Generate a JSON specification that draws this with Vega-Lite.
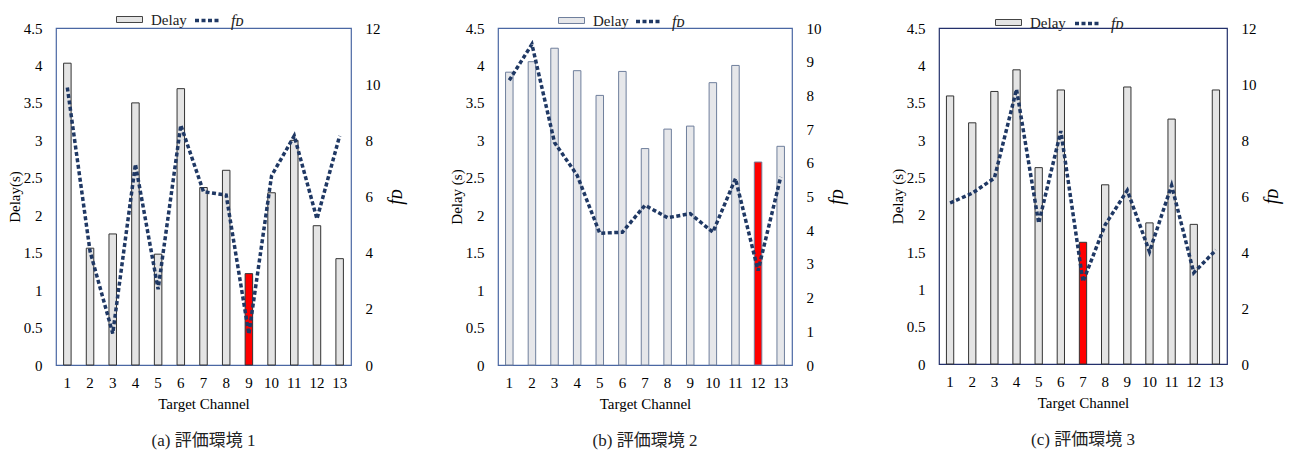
{
  "$schema": "https://vega.github.io/schema/vega-lite/v6.json",
  "background": "#ffffff",
  "padding": {"left": 6, "top": 5, "right": 5, "bottom": 5},
  "datasets": {
    "env1": [
      {"ch": 1, "delay": 4.03, "fd": 9.88, "best": false},
      {"ch": 2, "delay": 1.56, "fd": 4.05, "best": false},
      {"ch": 3, "delay": 1.75, "fd": 1.12, "best": false},
      {"ch": 4, "delay": 3.50, "fd": 7.15, "best": false},
      {"ch": 5, "delay": 1.48, "fd": 2.7, "best": false},
      {"ch": 6, "delay": 3.69, "fd": 8.54, "best": false},
      {"ch": 7, "delay": 2.37, "fd": 6.17, "best": false},
      {"ch": 8, "delay": 2.60, "fd": 6.05, "best": false},
      {"ch": 9, "delay": 1.22, "fd": 1.1, "best": true},
      {"ch": 10, "delay": 2.30, "fd": 6.74, "best": false},
      {"ch": 11, "delay": 3.00, "fd": 8.16, "best": false},
      {"ch": 12, "delay": 1.86, "fd": 5.2, "best": false},
      {"ch": 13, "delay": 1.42, "fd": 8.16, "best": false}
    ],
    "env2": [
      {"ch": 1, "delay": 3.91, "fd": 8.45, "best": false},
      {"ch": 2, "delay": 4.05, "fd": 9.52, "best": false},
      {"ch": 3, "delay": 4.23, "fd": 6.6, "best": false},
      {"ch": 4, "delay": 3.93, "fd": 5.63, "best": false},
      {"ch": 5, "delay": 3.60, "fd": 3.91, "best": false},
      {"ch": 6, "delay": 3.92, "fd": 3.94, "best": false},
      {"ch": 7, "delay": 2.89, "fd": 4.74, "best": false},
      {"ch": 8, "delay": 3.15, "fd": 4.37, "best": false},
      {"ch": 9, "delay": 3.19, "fd": 4.49, "best": false},
      {"ch": 10, "delay": 3.77, "fd": 3.94, "best": false},
      {"ch": 11, "delay": 4.00, "fd": 5.53, "best": false},
      {"ch": 12, "delay": 2.71, "fd": 2.8, "best": true},
      {"ch": 13, "delay": 2.92, "fd": 5.58, "best": false}
    ],
    "env3": [
      {"ch": 1, "delay": 3.59, "fd": 5.75, "best": false},
      {"ch": 2, "delay": 3.23, "fd": 6.1, "best": false},
      {"ch": 3, "delay": 3.65, "fd": 6.64, "best": false},
      {"ch": 4, "delay": 3.94, "fd": 9.81, "best": false},
      {"ch": 5, "delay": 2.63, "fd": 5.03, "best": false},
      {"ch": 6, "delay": 3.67, "fd": 8.32, "best": false},
      {"ch": 7, "delay": 1.63, "fd": 2.94, "best": true},
      {"ch": 8, "delay": 2.40, "fd": 4.97, "best": false},
      {"ch": 9, "delay": 3.71, "fd": 6.2, "best": false},
      {"ch": 10, "delay": 1.89, "fd": 4.01, "best": false},
      {"ch": 11, "delay": 3.28, "fd": 6.38, "best": false},
      {"ch": 12, "delay": 1.87, "fd": 3.26, "best": false},
      {"ch": 13, "delay": 3.67, "fd": 4.07, "best": false}
    ]
  },
  "config": {
    "font": "Liberation Serif, Times New Roman, serif",
    "view": {"stroke": "#4a67a3", "strokeWidth": 1.2},
    "axis": {
      "ticks": false,
      "domain": false,
      "grid": false,
      "labelFont": "Liberation Serif, Times New Roman, serif",
      "labelFontSize": 15,
      "labelColor": "#000000",
      "titleFont": "Liberation Serif, Times New Roman, serif",
      "titleFontSize": 15,
      "titleFontWeight": "normal",
      "titleColor": "#000000"
    },
    "legend": {
      "labelFont": "Liberation Serif, Times New Roman, serif",
      "labelFontSize": 15,
      "labelColor": "#222222",
      "padding": 0,
      "offset": 0
    },
    "title": {
      "font": "Liberation Serif, Noto Sans CJK JP, serif",
      "fontSize": 17,
      "fontWeight": "normal",
      "color": "#222222"
    }
  },
  "spacing": 147,
  "bounds": "flush",
  "resolve": {
    "scale": {"x": "independent", "y": "independent", "fill": "independent", "strokeDash": "independent"},
    "legend": {"fill": "independent", "strokeDash": "independent"}
  },
  "hconcat": [
    {
      "width": 295,
      "height": 337,
      "data": {"name": "env1"},
      "title": {"text": "(a) 評価環境 1", "orient": "bottom", "frame": "group", "anchor": "middle", "offset": 22},
      "layer": [
        {
          "mark": {"type": "bar", "width": 7.5, "stroke": "#333333", "strokeWidth": 1},
          "encoding": {
            "x": {"field": "ch", "type": "ordinal", "scale": {"paddingInner": 0, "paddingOuter": 0},
                  "axis": {"labelAngle": 0, "labelPadding": 10, "titlePadding": 6, "title": "Target Channel"}},
            "y": {"field": "delay", "type": "quantitative", "scale": {"domain": [0, 4.5], "nice": false},
                  "axis": {"values": [0, 0.5, 1, 1.5, 2, 2.5, 3, 3.5, 4, 4.5], "format": ".1~f", "labelPadding": 14, "titlePadding": 1, "title": "Delay(s)"}},
            "fill": {
              "condition": {"test": "datum.best", "value": "#ff0000"},
              "datum": "Delay",
              "scale": {"domain": ["Delay"], "range": ["#e4e4e4"]},
              "legend": {"title": null, "orient": "none", "legendX": 60, "legendY": -22,
                         "symbolType": "M-1,-0.23H1V0.23H-1Z", "symbolSize": 676,
                         "symbolStrokeColor": "#444444", "symbolStrokeWidth": 1, "labelOffset": 8}
            }
          }
        },
        {
          "mark": {"type": "line", "stroke": "#1f3864", "strokeWidth": 3.5, "strokeCap": "butt"},
          "encoding": {
            "x": {"field": "ch", "type": "ordinal"},
            "y": {"field": "fd", "type": "quantitative", "scale": {"domain": [0, 12], "nice": false},
                  "axis": {"orient": "right", "values": [0, 2, 4, 6, 8, 10, 12], "labelPadding": 14, "titlePadding": 5,
                           "title": "fᴅ", "titleAngle": -90, "titleBaseline": "top", "titleFontSize": 20, "titleFontStyle": "italic"}},
            "strokeDash": {
              "datum": "fᴅ",
              "scale": {"domain": ["fᴅ"], "range": [[4, 2.5]]},
              "legend": {"title": null, "orient": "none", "legendX": 137, "legendY": -22,
                         "symbolType": "stroke", "symbolSize": 625, "symbolStrokeColor": "#1f3864",
                         "symbolStrokeWidth": 3.5, "labelOffset": 9, "labelFontStyle": "italic", "labelFontSize": 16}
            }
          }
        }
      ],
      "resolve": {"scale": {"y": "independent"}}
    },
    {
      "width": 294,
      "height": 337,
      "data": {"name": "env2"},
      "title": {"text": "(b) 評価環境 2", "orient": "bottom", "frame": "group", "anchor": "middle", "offset": 22},
      "layer": [
        {
          "mark": {"type": "bar", "width": 7.5, "stroke": "#6f7f9c", "strokeWidth": 1},
          "encoding": {
            "x": {"field": "ch", "type": "ordinal", "scale": {"paddingInner": 0, "paddingOuter": 0},
                  "axis": {"labelAngle": 0, "labelPadding": 10, "titlePadding": 6, "title": "Target Channel"}},
            "y": {"field": "delay", "type": "quantitative", "scale": {"domain": [0, 4.5], "nice": false},
                  "axis": {"values": [0, 0.5, 1, 1.5, 2, 2.5, 3, 3.5, 4, 4.5], "format": ".1~f", "labelPadding": 14, "titlePadding": 1, "title": "Delay (s)"}},
            "fill": {
              "condition": {"test": "datum.best", "value": "#ff0000"},
              "datum": "Delay",
              "scale": {"domain": ["Delay"], "range": ["#e6e7ea"]},
              "legend": {"title": null, "orient": "none", "legendX": 60, "legendY": -21,
                         "symbolType": "M-1,-0.23H1V0.23H-1Z", "symbolSize": 676,
                         "symbolStrokeColor": "#6f7f9c", "symbolStrokeWidth": 1, "labelOffset": 8}
            }
          }
        },
        {
          "mark": {"type": "line", "stroke": "#1f3864", "strokeWidth": 3.5, "strokeCap": "butt"},
          "encoding": {
            "x": {"field": "ch", "type": "ordinal"},
            "y": {"field": "fd", "type": "quantitative", "scale": {"domain": [0, 10], "nice": false},
                  "axis": {"orient": "right", "values": [0, 1, 2, 3, 4, 5, 6, 7, 8, 9, 10], "labelPadding": 14, "titlePadding": 5,
                           "title": "fᴅ", "titleAngle": -90, "titleBaseline": "top", "titleFontSize": 20, "titleFontStyle": "italic"}},
            "strokeDash": {
              "datum": "fᴅ",
              "scale": {"domain": ["fᴅ"], "range": [[4, 2.5]]},
              "legend": {"title": null, "orient": "none", "legendX": 136, "legendY": -21,
                         "symbolType": "stroke", "symbolSize": 625, "symbolStrokeColor": "#1f3864",
                         "symbolStrokeWidth": 3.5, "labelOffset": 9, "labelFontStyle": "italic", "labelFontSize": 16}
            }
          }
        }
      ],
      "resolve": {"scale": {"y": "independent"}}
    },
    {
      "width": 288,
      "height": 336,
      "data": {"name": "env3"},
      "view": {"stroke": "#23306b", "strokeWidth": 1.2},
      "title": {"text": "(c) 評価環境 3", "orient": "bottom", "frame": "group", "anchor": "middle", "offset": 22},
      "layer": [
        {
          "mark": {"type": "bar", "width": 7.3, "stroke": "#333333", "strokeWidth": 1},
          "encoding": {
            "x": {"field": "ch", "type": "ordinal", "scale": {"paddingInner": 0, "paddingOuter": 0},
                  "axis": {"labelAngle": 0, "labelPadding": 10, "titlePadding": 6, "title": "Target Channel"}},
            "y": {"field": "delay", "type": "quantitative", "scale": {"domain": [0, 4.5], "nice": false},
                  "axis": {"values": [0, 0.5, 1, 1.5, 2, 2.5, 3, 3.5, 4, 4.5], "format": ".1~f", "labelPadding": 14, "titlePadding": 1, "title": "Delay (s)"}},
            "fill": {
              "condition": {"test": "datum.best", "value": "#ff0000"},
              "datum": "Delay",
              "scale": {"domain": ["Delay"], "range": ["#e4e4e4"]},
              "legend": {"title": null, "orient": "none", "legendX": 56, "legendY": -19,
                         "symbolType": "M-1,-0.23H1V0.23H-1Z", "symbolSize": 676,
                         "symbolStrokeColor": "#444444", "symbolStrokeWidth": 1, "labelOffset": 8}
            }
          }
        },
        {
          "mark": {"type": "line", "stroke": "#1f3864", "strokeWidth": 3.5, "strokeCap": "butt"},
          "encoding": {
            "x": {"field": "ch", "type": "ordinal"},
            "y": {"field": "fd", "type": "quantitative", "scale": {"domain": [0, 12], "nice": false},
                  "axis": {"orient": "right", "values": [0, 2, 4, 6, 8, 10, 12], "labelPadding": 14, "titlePadding": 5,
                           "title": "fᴅ", "titleAngle": -90, "titleBaseline": "top", "titleFontSize": 20, "titleFontStyle": "italic"}},
            "strokeDash": {
              "datum": "fᴅ",
              "scale": {"domain": ["fᴅ"], "range": [[4, 2.5]]},
              "legend": {"title": null, "orient": "none", "legendX": 134, "legendY": -19,
                         "symbolType": "stroke", "symbolSize": 625, "symbolStrokeColor": "#1f3864",
                         "symbolStrokeWidth": 3.5, "labelOffset": 9, "labelFontStyle": "italic", "labelFontSize": 16}
            }
          }
        }
      ],
      "resolve": {"scale": {"y": "independent"}}
    }
  ]
}
